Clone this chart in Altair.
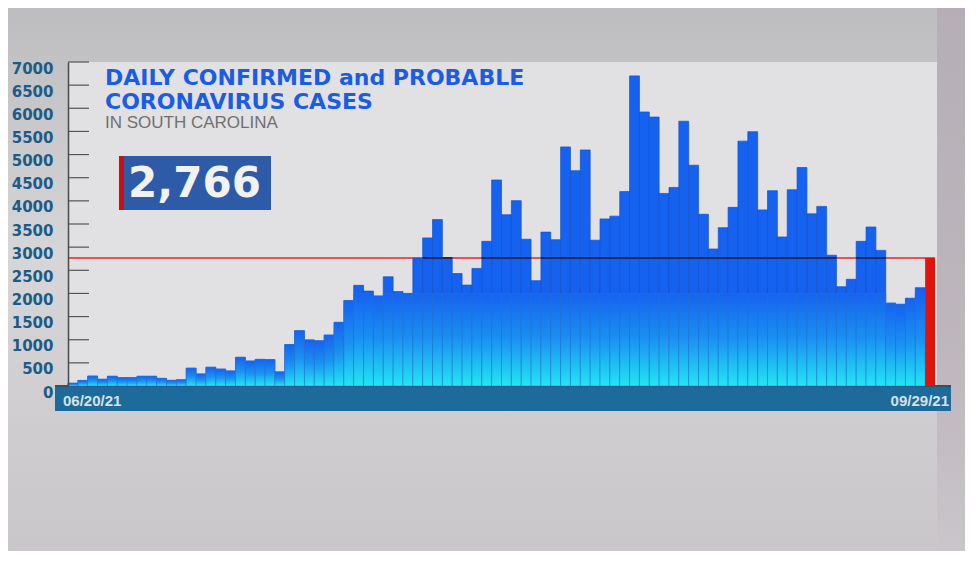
import altair as alt
import pandas as pd

# ---- data ----
daily_cases = [60, 120, 215, 145, 210, 180, 180, 210, 210, 165, 122, 135, 385, 260, 405, 365, 325, 620, 540, 575, 570, 305,
               895, 1195, 995, 975, 1100, 1375, 1845, 2175, 2050, 1945, 2360, 2040, 2000, 2760, 3200, 3595, 2770, 2430, 2180, 2540, 3125,
               4450, 3700, 4005, 3170, 2275, 3325, 3160, 5165, 4650, 5100, 3150, 3610, 3670, 4200, 6700, 5920, 5810, 4160, 4290, 5720, 4770,
               3710, 2960, 3420, 3860, 5290, 5495, 3805, 4220, 3220, 4240, 4720, 3720, 3880, 2825, 2145, 2305, 3125, 3435, 2930, 1790, 1765, 1895, 2125, 2766]
latest_value = 2766
first_date = "06/20/21"
last_date = "09/29/21"
y_ticks = list(range(0, 7001, 500))
title_lines = ["DAILY CONFIRMED and PROBABLE", "CORONAVIRUS CASES"]
subtitle = "IN SOUTH CAROLINA"
latest_label = "2,766"

n = len(daily_cases)
df = pd.DataFrame({
    "idx": list(range(1, n + 1)),
    "cases": daily_cases,
    "latest": [False] * (n - 1) + [True],
})
ticks_df = pd.DataFrame({"v": y_ticks})
one = pd.DataFrame({"k": [0]})

W, H = 867, 324
yscale = alt.Scale(domain=[0, 7000], nice=False)
yaxis = alt.Axis(values=y_ticks, format="d", title=None, grid=False, ticks=False,
                 domain=True, domainColor="#4a4a4a", domainWidth=1.5,
                 labelFont="DejaVu Sans", labelFontWeight="bold",
                 labelFontSize=15, labelColor="#1d5b87",
                 labelPadding=15, labelOffset=6, zindex=1)
xenc = alt.X("idx:O", scale=alt.Scale(paddingInner=0, paddingOuter=0), axis=None)

def Y(field):
    return alt.Y(field, scale=yscale, axis=yaxis, title=None)

def rect(x, x2, y, y2, color):
    return alt.Chart(one).mark_rect(color=color).encode(
        x=alt.value(x), x2=alt.value(x2), y=alt.value(y), y2=alt.value(y2))

bg = alt.Chart(one).mark_rect(color={
    "gradient": "linear", "x1": 0, "x2": 0, "y1": 0, "y2": 1,
    "stops": [{"offset": 0, "color": "#bdbcbe"}, {"offset": 0.45, "color": "#d6d5d7"},
              {"offset": 1, "color": "#c9c6c9"}]}).encode(
    x=alt.value(-60), x2=alt.value(910), y=alt.value(-54), y2=alt.value(500))
right_strip = alt.Chart(one).mark_rect(color={
    "gradient": "linear", "x1": 0, "x2": 0, "y1": 0, "y2": 1,
    "stops": [{"offset": 0, "color": "#b6aeb6"}, {"offset": 0.6, "color": "#bdb6bd"},
              {"offset": 1, "color": "#cac6ca"}]}).encode(
    x=alt.value(869), x2=alt.value(910), y=alt.value(-54), y2=alt.value(500))
panel = rect(0, 869, 0, H, "#e1e0e2")
band = rect(-13, 883, H, H + 25, "#1d6b9b")
band_line = rect(-13, 883, H - 1, H + 1, "#35505e")

inner_ticks = alt.Chart(ticks_df).mark_rule(color="#555555", strokeWidth=1.2).encode(
    y=Y("v:Q"), x=alt.value(0), x2=alt.value(21))

ref_line = alt.Chart(pd.DataFrame({"v": [latest_value]})).mark_rule(
    color="#e8241c", strokeWidth=1.6).encode(
    y=Y("v:Q"), x=alt.value(0), x2=alt.value(W))

blue = alt.Chart(df).transform_filter("!datum.latest").mark_bar(
    color="#1662f0", stroke="#1450c8", strokeWidth=0.7).encode(
    x=xenc, y=Y("cases:Q"))

glow = alt.Chart(df).transform_filter("!datum.latest").transform_calculate(
    low="min(datum.cases, 2000)").mark_bar(
    color={"gradient": "linear", "x1": 0, "x2": 0, "y1": 0, "y2": 1,
           "stops": [{"offset": 0, "color": "#1662f0"},
                     {"offset": 0.5, "color": "#1a92f2"},
                     {"offset": 1, "color": "#22e6f4"}]},
    stroke="#2a72c8", strokeWidth=0.7, strokeOpacity=0.7).encode(
    x=xenc, y=Y("low:Q"), y2=alt.datum(0))

line_over = alt.Chart(df).transform_filter(
    f"!datum.latest && datum.cases > {latest_value}").transform_calculate(
    a=f"{latest_value} - 17", b=f"{latest_value} + 17").mark_bar(color="#1c1c2c").encode(
    x=xenc, y=Y("a:Q"), y2="b:Q")

red_bar = alt.Chart(df).transform_filter("datum.latest").mark_bar(color="#e0140c").encode(
    x=xenc, y=Y("cases:Q"), y2=alt.datum(0))

def text(s, x, y, size, color, font="DejaVu Sans", weight="bold", align="left"):
    return alt.Chart(one).mark_text(text=s, font=font, fontWeight=weight, fontSize=size,
                                    color=color, align=align, baseline="alphabetic").encode(
        x=alt.value(x), y=alt.value(y))

t1 = text(title_lines[0], 37, 23, 22, "#1a5de2")
t2 = text(title_lines[1], 37, 47, 22, "#1a5de2")
t3 = text(subtitle, 37, 66, 17, "#707070", font="Liberation Sans", weight="normal")
box = rect(51, 203, 94, 148, "#2d5ba8")
box_red = rect(51, 56, 94, 148, "#cc1010")
num = text(latest_label, 60, 135, 42, "#f2f2f2")
d1 = text(first_date, -5, 344, 15, "#d4e2ec", font="Liberation Sans")
d2 = text(last_date, 881, 344, 15, "#d4e2ec", font="Liberation Sans", align="right")

chart = alt.layer(
    bg, right_strip, panel, band, band_line, inner_ticks, ref_line,
    blue, glow, line_over, red_bar,
    t1, t2, t3, box, box_red, num, d1, d2,
).properties(
    width=W, height=H,
    autosize=alt.AutoSizeParams(type="none"),
    padding={"left": 60, "top": 54, "right": 30, "bottom": 165},
).configure_view(stroke=None).configure(background="#cfcfcf")

chart.save("out.html", embed_options={"renderer": "svg", "actions": False})
